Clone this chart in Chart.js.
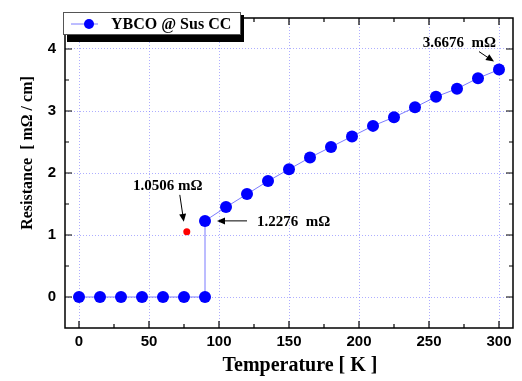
<!DOCTYPE html>
<html>
<head>
<meta charset="utf-8">
<script src="https://cdn.jsdelivr.net/npm/chart.js@4.4.1/dist/chart.umd.min.js"></script>
<style>
  html, body { margin: 0; padding: 0; background: #fff; }
  #wrap { width: 522px; height: 381px; }
</style>
</head>
<body>
<div id="wrap"><canvas id="rt"></canvas></div>
<script>
// YBCO @ Sus CC resistance vs temperature
var temps = [0, 15, 30, 45, 60, 75, 90, 90, 105, 120, 135, 150, 165, 180, 195, 210, 225, 240, 255, 270, 285, 300];
var resist = [0, 0, 0, 0, 0, 0, 0, 1.2276, 1.45, 1.66, 1.87, 2.06, 2.25, 2.42, 2.59, 2.76, 2.90, 3.06, 3.23, 3.36, 3.53, 3.6676];
var redT = [77];
var redR = [1.0506];
var xTicks = [0, 50, 100, 150, 200, 250, 300];
var yTicks = [0, 1, 2, 3, 4];
var xMinor = [25, 75, 125, 175, 225, 275];
var yMinor = [0.5, 1.5, 2.5, 3.5];
var seriesName = 'YBCO @ Sus CC';
var xTitle = 'Temperature [ K ]';
var yTitle = 'Resistance  [ m\u03A9 / cm]';

var serif = '"Liberation Serif", "Times New Roman", serif';
var sans = '"Liberation Sans", Arial, sans-serif';

var mainPts = temps.map(function(t, i){ return {x: t, y: resist[i]}; });
var redPts = redT.map(function(t, i){ return {x: t, y: redR[i]}; });

function arrow(ctx, x1, y1, x2, y2) {
  var a = Math.atan2(y2 - y1, x2 - x1), L = 8, W = 3.5;
  ctx.beginPath(); ctx.moveTo(x1, y1); ctx.lineTo(x2 - Math.cos(a) * L * 0.8, y2 - Math.sin(a) * L * 0.8); ctx.stroke();
  ctx.beginPath();
  ctx.moveTo(x2, y2);
  ctx.lineTo(x2 - L * Math.cos(a) + W * Math.sin(a), y2 - L * Math.sin(a) - W * Math.cos(a));
  ctx.lineTo(x2 - L * Math.cos(a) - W * Math.sin(a), y2 - L * Math.sin(a) + W * Math.cos(a));
  ctx.closePath(); ctx.fill();
}

var extras = {
  id: 'extras',
  afterDraw: function(chart) {
    var ctx = chart.ctx, a = chart.chartArea, xs = chart.scales.x, ys = chart.scales.y;
    ctx.save();
    // frame
    ctx.strokeStyle = '#000'; ctx.lineWidth = 1.5;
    ctx.strokeRect(a.left, a.top, a.right - a.left, a.bottom - a.top);
    // inward ticks on all sides
    ctx.lineWidth = 1.2;
    function tx(v, len) {
      var p = xs.getPixelForValue(v);
      ctx.beginPath(); ctx.moveTo(p, a.bottom); ctx.lineTo(p, a.bottom - len);
      ctx.moveTo(p, a.top); ctx.lineTo(p, a.top + len); ctx.stroke();
    }
    function ty(v, len) {
      var p = ys.getPixelForValue(v);
      ctx.beginPath(); ctx.moveTo(a.left, p); ctx.lineTo(a.left + len, p);
      ctx.moveTo(a.right, p); ctx.lineTo(a.right - len, p); ctx.stroke();
    }
    xTicks.forEach(function(v){ tx(v, 7); });
    xMinor.forEach(function(v){ tx(v, 4); });
    yTicks.forEach(function(v){ ty(v, 7); });
    yMinor.forEach(function(v){ ty(v, 4); });

    // axis titles
    ctx.fillStyle = '#000';
    ctx.textAlign = 'center'; ctx.textBaseline = 'middle';
    ctx.font = 'bold 20px ' + serif;
    ctx.fillText(xTitle, 300, 366);
    ctx.save();
    ctx.translate(28, 153); ctx.rotate(-Math.PI / 2);
    ctx.font = 'bold 16px ' + serif;
    ctx.fillText(yTitle, 0, 0);
    ctx.restore();

    // legend box with shadow
    ctx.fillStyle = '#000';
    ctx.fillRect(67, 15, 177, 27);
    ctx.fillStyle = '#fff';
    ctx.fillRect(63, 12, 178, 23);
    ctx.strokeStyle = '#555'; ctx.lineWidth = 1;
    ctx.strokeRect(63.5, 12.5, 177, 22);
    ctx.strokeStyle = '#7b7bff'; ctx.lineWidth = 1;
    ctx.beginPath(); ctx.moveTo(71, 24); ctx.lineTo(98, 24); ctx.stroke();
    ctx.fillStyle = '#0000ff';
    ctx.beginPath(); ctx.arc(89, 24, 5, 0, Math.PI * 2); ctx.fill();
    ctx.fillStyle = '#000';
    ctx.font = 'bold 16px ' + serif;
    ctx.textBaseline = 'alphabetic'; ctx.textAlign = 'left';
    ctx.fillText(seriesName, 111, 29);

    // annotations
    ctx.font = 'bold 15px ' + serif;
    ctx.strokeStyle = '#000'; ctx.fillStyle = '#000'; ctx.lineWidth = 1;
    var rx = xs.getPixelForValue(redT[0]), ry = ys.getPixelForValue(redR[0]);
    ctx.textAlign = 'center';
    ctx.fillText(redR[0].toFixed(4) + ' m\u03A9', rx - 19, ry - 42);
    arrow(ctx, rx - 7, ry - 37, rx - 3, ry - 10);

    var jx = xs.getPixelForValue(temps[7]), jy = ys.getPixelForValue(resist[7]);
    ctx.textAlign = 'left';
    ctx.fillText(resist[7].toFixed(4) + '  m\u03A9', jx + 52, jy + 5);
    arrow(ctx, jx + 42, jy, jx + 12, jy);

    var ex = xs.getPixelForValue(temps[temps.length - 1]), ey = ys.getPixelForValue(resist[resist.length - 1]);
    ctx.textAlign = 'right';
    ctx.fillText(resist[resist.length - 1].toFixed(4) + '  m\u03A9', ex - 3, ey - 23);
    arrow(ctx, ex - 20, ey - 18, ex - 5, ey - 8);
    ctx.restore();
  }
};

new Chart(document.getElementById('rt'), {
  type: 'scatter',
  data: {
    datasets: [{
      label: seriesName,
      data: mainPts,
      showLine: true,
      borderColor: '#7b7bff',
      borderWidth: 1,
      backgroundColor: '#0000ff',
      pointBackgroundColor: '#0000ff',
      pointBorderWidth: 0,
      pointRadius: 6,
      tension: 0
    }, {
      label: 'red',
      data: redPts,
      pointBackgroundColor: '#ff0000',
      backgroundColor: '#ff0000',
      pointBorderWidth: 0,
      pointRadius: 3.5
    }]
  },
  options: {
    responsive: true,
    maintainAspectRatio: false,
    animation: false,
    layout: { padding: { top: 12, right: 9, left: 0, bottom: 0 } },
    plugins: { legend: { display: false }, tooltip: { enabled: false } },
    scales: {
      x: {
        type: 'linear', min: -10, max: 310,
        afterBuildTicks: function(s){ s.ticks = xTicks.map(function(v){ return {value: v}; }); },
        afterFit: function(s){ s.height = 53; },
        grid: { color: 'rgba(120,120,255,0.6)', lineWidth: 1, drawTicks: false },
        border: { display: false, dash: [1, 2] },
        ticks: { color: '#000', padding: 5, font: { family: sans, size: 15, weight: 'bold' }, maxRotation: 0 }
      },
      y: {
        type: 'linear', min: -0.5, max: 4.5,
        afterBuildTicks: function(s){ s.ticks = yTicks.map(function(v){ return {value: v}; }); },
        afterFit: function(s){ s.width = 65; },
        grid: { color: 'rgba(120,120,255,0.6)', lineWidth: 1, drawTicks: false },
        border: { display: false, dash: [1, 2] },
        ticks: { color: '#000', padding: 9, font: { family: sans, size: 15, weight: 'bold' } }
      }
    }
  },
  plugins: [extras]
});
</script>
</body>
</html>
